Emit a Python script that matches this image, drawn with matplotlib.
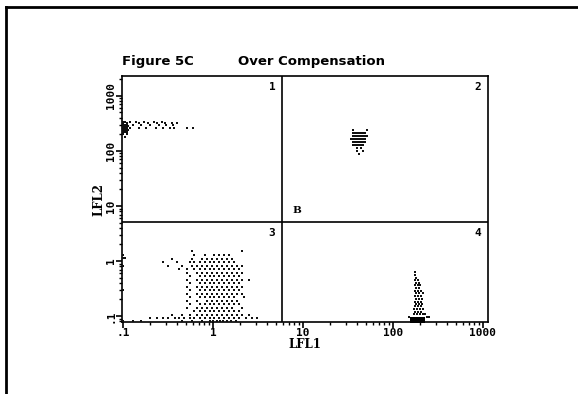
import matplotlib
matplotlib.use("Agg")
import matplotlib.pyplot as plt
from matplotlib.lines import Line2D
from matplotlib.font_manager import FontProperties
from matplotlib.ticker import FixedLocator, FixedFormatter, LogLocator, NullFormatter

# ---------------- data ----------------
title_left = "Figure 5C"
title_right = "Over Compensation"
x_label = "LFL1"
y_label = "LFL2"
tick_values = [0.1, 1, 10, 100, 1000]
tick_labels = [".1", "1", "10", "100", "1000"]
quad_x = 5.85          # vertical quadrant marker (LFL1)
quad_y = 5.1           # horizontal quadrant marker (LFL2)
quad_names = ["1", "2", "3", "4"]
region_label = "B"

# Quadrant 1 cluster (rows of LFL2 with LFL1 values)
q1_row_y = [340, 320, 300, 280, 260, 240, 220, 200, 180]
q1_row_x = [
    [0.10, 0.105, 0.12, 0.14, 0.17, 0.22, 0.27],
    [0.10, 0.11, 0.15, 0.19, 0.24, 0.29, 0.35, 0.40],
    [0.10, 0.105, 0.11, 0.13, 0.16, 0.20, 0.25, 0.30, 0.36],
    [0.10, 0.105, 0.11, 0.115],
    [0.10, 0.105, 0.11, 0.12, 0.15, 0.18, 0.23, 0.28, 0.33, 0.37, 0.51, 0.60],
    [0.10, 0.105, 0.11, 0.115],
    [0.10, 0.105, 0.11],
    [0.10, 0.11],
    [0.105],
]

# Quadrant 2 cluster
q2_row_y = [241, 212, 187, 165, 146, 129, 113, 100, 88]
q2_row_x = [
    [36, 51],
    [36, 38, 40, 42, 44, 46, 49],
    [36, 38, 40, 42, 44, 46, 49, 51],
    [34, 36, 38, 40, 42, 44, 46, 49],
    [36, 38, 40, 42, 44, 46, 49],
    [36, 38, 40, 42, 44, 46],
    [40, 44],
    [40, 46],
    [42],
]

# Quadrant 3 cloud
q3_row_y = [1.52, 1.28, 1.13, 1.09, 0.96, 0.81, 0.72, 0.605, 0.53, 0.45, 0.40,
            0.337, 0.297, 0.25, 0.22, 0.187, 0.165, 0.14, 0.123, 0.104, 0.092, 0.083]
q3_row_x = [
    [0.58, 2.09],
    [0.10, 0.62, 0.81, 1.04, 1.18, 1.34, 1.52],
    [0.10, 0.105],
    [0.35, 0.58, 0.75, 0.86, 0.97, 1.11, 1.26, 1.43, 1.62],
    [0.28, 0.40, 0.55, 0.62, 0.71, 0.81, 0.92, 1.04, 1.18, 1.34, 1.52, 1.73],
    [0.10, 0.32, 0.45, 0.58, 0.66, 0.75, 0.86, 0.97, 1.11, 1.26, 1.43, 1.62, 1.84, 2.09],
    [0.42, 0.51, 0.62, 0.71, 0.81, 0.92, 1.04, 1.18, 1.34, 1.52, 1.73, 1.96],
    [0.51, 0.66, 0.75, 0.86, 0.97, 1.11, 1.26, 1.43, 1.62, 1.84, 2.09],
    [0.55, 0.71, 0.81, 0.92, 1.04, 1.18, 1.34, 1.52, 1.73, 1.96],
    [0.51, 0.66, 0.75, 0.86, 0.97, 1.11, 1.26, 1.43, 1.62, 1.84, 2.09, 2.5],
    [0.55, 0.71, 0.81, 0.92, 1.04, 1.18, 1.34, 1.52, 1.73, 1.96],
    [0.51, 0.66, 0.75, 0.86, 0.97, 1.11, 1.26, 1.43, 1.62, 1.84, 2.09],
    [0.10, 0.55, 0.71, 0.81, 0.92, 1.04, 1.18, 1.34, 1.52, 1.73, 1.96],
    [0.51, 0.66, 0.75, 0.86, 0.97, 1.11, 1.26, 1.43, 1.62, 1.84, 2.09],
    [0.55, 0.71, 0.81, 0.92, 1.04, 1.18, 1.34, 1.52, 1.73, 2.2],
    [0.51, 0.66, 0.86, 0.97, 1.11, 1.26, 1.43, 1.62, 1.84],
    [0.55, 0.71, 0.81, 0.92, 1.04, 1.18, 1.34, 1.52, 1.73, 1.96],
    [0.51, 0.66, 0.75, 0.86, 0.97, 1.11, 1.26, 1.43, 1.62, 2.09],
    [0.62, 0.71, 0.81, 0.92, 1.04, 1.18, 1.34, 1.52, 1.73, 1.96],
    [0.35, 0.45, 0.55, 0.66, 0.75, 0.86, 0.97, 1.11, 1.26, 1.43, 1.62, 1.84, 2.09, 2.5],
    [0.20, 0.24, 0.28, 0.32, 0.38, 0.42, 0.48, 0.55, 0.62, 0.71, 0.81, 0.92, 1.04,
     1.18, 1.34, 1.52, 1.73, 1.96, 2.3, 2.7, 3.1],
    [0.10, 0.13, 0.16, 0.45, 0.58, 0.75, 0.92, 1.0, 1.1, 1.2, 1.3, 1.45, 1.6, 1.8],
]

# Quadrant 4 column
q4_row_y = [0.63, 0.56, 0.50, 0.45, 0.40, 0.36, 0.32, 0.29, 0.26, 0.23, 0.205,
            0.18, 0.165, 0.15, 0.135, 0.12, 0.11, 0.098]
q4_row_x = [
    [176], [176], [180], [176, 190], [180, 194], [176, 190, 200], [180, 194],
    [176, 190, 205], [180, 194, 215], [176, 190, 205], [180, 194, 210],
    [176, 190, 205], [180, 194, 210], [176, 190, 205], [172, 185, 200, 215],
    [176, 190, 205], [170, 185, 200, 215, 230], [150, 240, 255],
]
q4_blob_x = [165, 170, 175, 180, 185, 190, 195, 200, 205, 210, 215]
q4_blob_y = [0.080, 0.085, 0.090]

# ---------------- figure ----------------
W, H = 578, 394
fig = plt.figure(figsize=(W / 100, H / 100), dpi=100)

# outer frame (top and left edges visible)
fig.add_artist(Line2D([6 / W, 6 / W], [0, 1 - 7 / H], color="black", lw=2))
fig.add_artist(Line2D([6 / W, 1], [1 - 7 / H, 1 - 7 / H], color="black", lw=2))

ax = fig.add_axes([122 / W, 1 - 322 / H, 366 / W, 246 / H])
ax.set_xscale("log")
ax.set_yscale("log")
ax.set_xlim(0.0975, 1140)
ax.set_ylim(0.078, 2300)


def flatten(rows_y, rows_x):
    xs, ys = [], []
    for yv, xl in zip(rows_y, rows_x):
        for xv in xl:
            xs.append(xv)
            ys.append(yv)
    return xs, ys


for ry, rx in [(q1_row_y, q1_row_x), (q2_row_y, q2_row_x),
               (q3_row_y, q3_row_x), (q4_row_y, q4_row_x)]:
    xs, ys = flatten(ry, rx)
    ax.scatter(xs, ys, s=0.8, marker="s", color="#111111", linewidths=0, zorder=3)

bx, by = [], []
for yv in q4_blob_y:
    for xv in q4_blob_x:
        bx.append(xv)
        by.append(yv)
ax.scatter(bx, by, s=6, marker="s", color="black", linewidths=0, zorder=3)

# quadrant lines
ax.axvline(quad_x, color="black", lw=1.2, zorder=2)
ax.axhline(quad_y, color="black", lw=1.2, zorder=2)

mono = {"family": "DejaVu Sans Mono", "weight": "bold", "size": 8}
qpos = [(0.41, 0.955), (0.972, 0.955), (0.41, 0.362), (0.972, 0.362)]
for name, (px, py) in zip(quad_names, qpos):
    ax.text(px, py, name, transform=ax.transAxes, ha="center", va="center", **mono)
ax.text(0.478, 0.455, region_label, transform=ax.transAxes, ha="center", va="center",
        family="DejaVu Serif", weight="bold", size=7.5)

# ticks
for axis in (ax.xaxis, ax.yaxis):
    axis.set_major_locator(FixedLocator(tick_values))
    axis.set_major_formatter(FixedFormatter(tick_labels))
    axis.set_minor_locator(LogLocator(base=10, subs=range(2, 10)))
    axis.set_minor_formatter(NullFormatter())
ax.tick_params(which="major", direction="out", length=4, width=1.2, pad=0.5)
ax.tick_params(which="minor", direction="out", length=2.5, width=1.0)
for lab in ax.get_xticklabels():
    lab.set_fontproperties(FontProperties(**mono))
for lab in ax.get_yticklabels():
    lab.set_fontproperties(FontProperties(**mono))
    lab.set_rotation(90)
    lab.set_va("center")
for sp in ax.spines.values():
    sp.set_linewidth(1.2)

ax.set_xlabel(x_label, family="DejaVu Serif", weight="bold", size=8.5, labelpad=0)
ax.set_ylabel(y_label, family="DejaVu Serif", weight="bold", size=8.5, labelpad=0.5)

fig.text(122 / W, 1 - 61 / H, title_left, ha="left", va="center",
         family="DejaVu Sans", weight="bold", size=9.5)
fig.text(238 / W, 1 - 61 / H, title_right, ha="left", va="center",
         family="DejaVu Sans", weight="bold", size=9.5)

fig.savefig("out.png", dpi=100)
